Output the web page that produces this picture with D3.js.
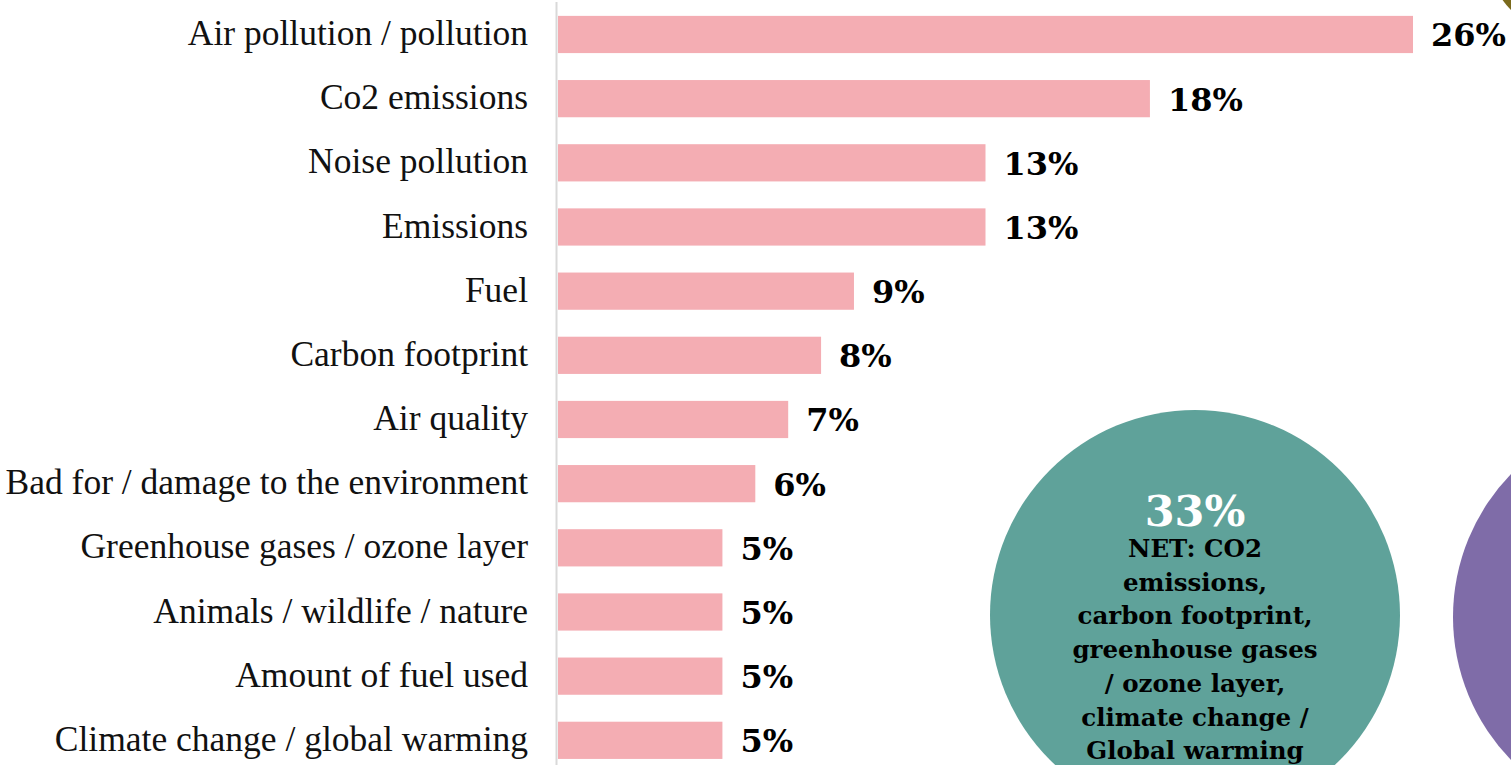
<!DOCTYPE html>
<html>
<head>
<meta charset="utf-8">
<script src="https://cdn.jsdelivr.net/npm/d3@7"></script>
<style>
  html, body { margin: 0; padding: 0; background: #ffffff; overflow: hidden; }
  svg { display: block; }
</style>
</head>
<body>
<svg id="chart" width="1511" height="765"></svg>
<script>
// Mentions of environmental impact (share of respondents)
const categories = [
  "Air pollution / pollution",
  "Co2 emissions",
  "Noise pollution",
  "Emissions",
  "Fuel",
  "Carbon footprint",
  "Air quality",
  "Bad for / damage to the environment",
  "Greenhouse gases / ozone layer",
  "Animals / wildlife / nature",
  "Amount of fuel used",
  "Climate change / global warming"
];
const values = [26, 18, 13, 13, 9, 8, 7, 6, 5, 5, 5, 5];

// Summary bubbles
const netValue = 33;
const netLines = [
  "NET: CO2",
  "emissions,",
  "carbon footprint,",
  "greenhouse gases",
  "/ ozone layer,",
  "climate change /",
  "Global warming"
];

const svg = d3.select("#chart");
const W = 1511, H = 765;

const serif = "'Liberation Serif', 'DejaVu Serif', serif";
const boldSerif = "'DejaVu Serif', 'Liberation Serif', serif";

const x = d3.scaleLinear().domain([0, 26]).range([558, 1413]);
const y = d3.scaleBand()
  .domain(categories)
  .range([2.4, 772.4])
  .paddingInner(0.42)
  .paddingOuter(0.21);

// Background bubbles
const bubbles = svg.append("g");
bubbles.append("circle")
  .attr("cx", 1560).attr("cy", -40).attr("r", 70)
  .attr("fill", "#7a6a1c");
bubbles.append("circle")
  .attr("cx", 1658).attr("cy", 617).attr("r", 205)
  .attr("fill", "#7f6ca8");
bubbles.append("circle")
  .attr("cx", 1195).attr("cy", 615).attr("r", 205)
  .attr("fill", "#5fa29a");

// Bars
svg.append("g")
  .selectAll("rect")
  .data(values)
  .join("rect")
  .attr("x", x(0))
  .attr("y", (d, i) => y(categories[i]))
  .attr("width", d => x(d) - x(0))
  .attr("height", y.bandwidth())
  .attr("fill", "#f4adb3");

// Vertical baseline
svg.append("line")
  .attr("x1", 556.5).attr("x2", 556.5)
  .attr("y1", 2).attr("y2", H)
  .attr("stroke", "#d9d9d9")
  .attr("stroke-width", 2);

// Category axis (labels only)
const yAxis = d3.axisLeft(y).tickSize(0).tickPadding(0);
const axisG = svg.append("g")
  .attr("transform", "translate(528,0)")
  .call(yAxis);
axisG.select(".domain").remove();
axisG.selectAll("text")
  .attr("font-family", serif)
  .attr("font-size", 35.5)
  .attr("fill", "#111")
  .attr("dy", "0.3em");

// Value labels
svg.append("g")
  .selectAll("text")
  .data(values)
  .join("text")
  .attr("x", d => x(d) + 18)
  .attr("y", (d, i) => y(categories[i]) + y.bandwidth() / 2 + 12)
  .attr("font-family", boldSerif)
  .attr("font-weight", "bold")
  .attr("font-size", 32)
  .attr("fill", "#000")
  .text(d => d + "%");

// NET bubble text
const net = svg.append("g").attr("text-anchor", "middle");
net.append("text")
  .attr("x", 1195).attr("y", 526)
  .attr("font-family", boldSerif)
  .attr("font-weight", "bold")
  .attr("font-size", 43)
  .attr("fill", "#ffffff")
  .text(netValue + "%");
net.selectAll("text.line")
  .data(netLines)
  .join("text")
  .attr("class", "line")
  .attr("x", 1195)
  .attr("y", (d, i) => 557 + i * 33.7)
  .attr("font-family", boldSerif)
  .attr("font-weight", "bold")
  .attr("font-size", 24.5)
  .attr("fill", "#000")
  .text(d => d);
</script>
</body>
</html>
